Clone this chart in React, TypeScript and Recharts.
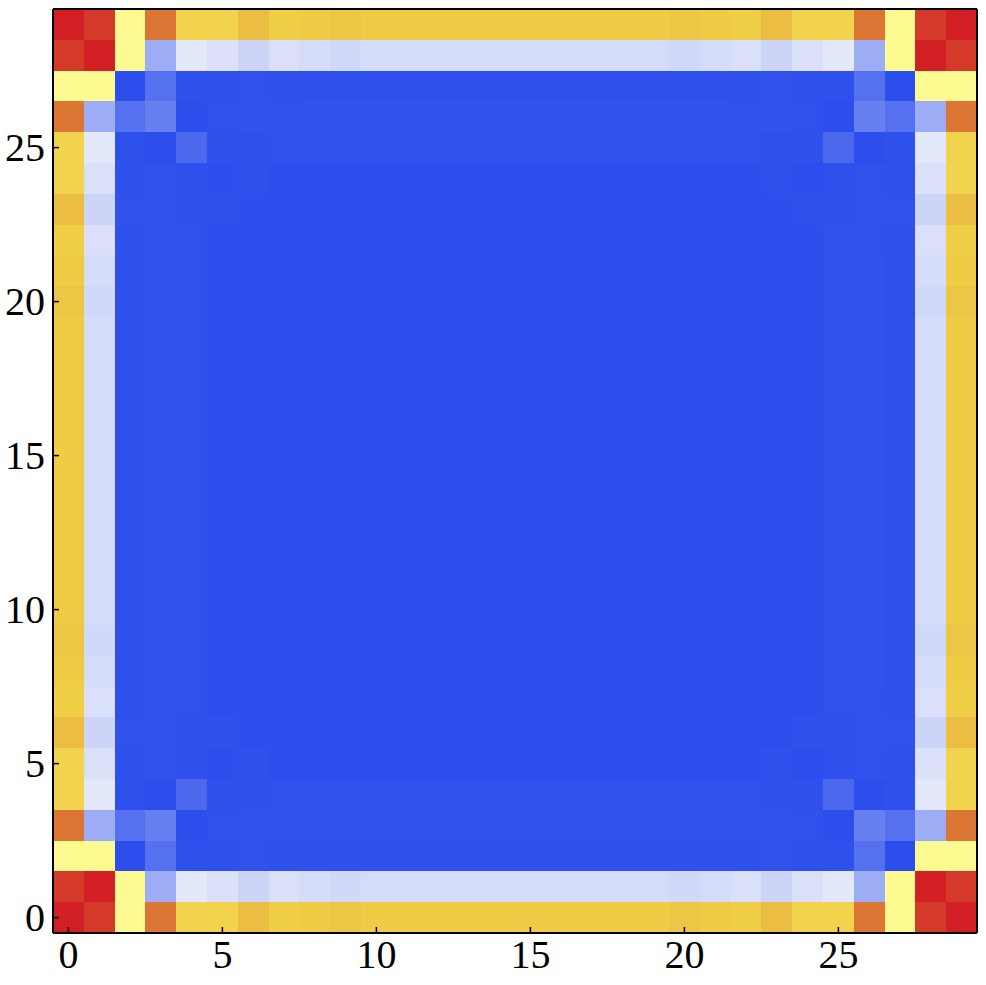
import React from 'react';
import { ScatterChart, Scatter, XAxis, YAxis } from 'recharts';

// ── Data ─────────────────────────────────────────────────────────────────────
// 30 x 30 grid, row index = y (0 at the bottom), column index = x.

const N = 30;
const X_TICKS = [0, 5, 10, 15, 20, 25];
const Y_TICKS = [0, 5, 10, 15, 20, 25];

const Z: number[][] = [
  [100, 94, 50, 80, 59, 59, 64, 60, 61, 62, 61, 61, 61, 61, 61, 61, 61, 61, 61, 61, 62, 61, 60, 64, 59, 59, 80, 50, 94, 100],
  [94, 100, 50, 24.5, 40, 38.3, 35, 38, 37, 36, 37, 37, 37, 37, 37, 37, 37, 37, 37, 37, 36, 37, 38, 35, 38.3, 40, 24.5, 50, 100, 94],
  [50, 50, 0, 9, 0.4, 0.4, 0.8, 0.4, 0.4, 0.4, 0.4, 0.4, 0.4, 0.4, 0.4, 0.4, 0.4, 0.4, 0.4, 0.4, 0.4, 0.4, 0.4, 0.8, 0.4, 0.4, 9, 0, 50, 50],
  [80, 24.5, 9, 13, 0, 0.8, 1.2, 0.8, 1, 1, 1, 1, 1, 1, 1, 1, 1, 1, 1, 1, 1, 1, 0.8, 1.2, 0.8, 0, 13, 9, 24.5, 80],
  [59, 40, 0.4, 0, 7, 0.6, 0.4, 0.8, 0.8, 0.8, 0.8, 0.8, 0.8, 0.8, 0.8, 0.8, 0.8, 0.8, 0.8, 0.8, 0.8, 0.8, 0.8, 0.4, 0.6, 7, 0, 0.4, 40, 59],
  [59, 38.3, 0.4, 0.8, 0.6, 0, 0.4, 0, 0, 0, 0, 0, 0, 0, 0, 0, 0, 0, 0, 0, 0, 0, 0, 0.4, 0, 0.6, 0.8, 0.4, 38.3, 59],
  [64, 35, 0.8, 1.2, 0.4, 0.4, 0, 0, 0, 0, 0, 0, 0, 0, 0, 0, 0, 0, 0, 0, 0, 0, 0, 0, 0.4, 0.4, 1.2, 0.8, 35, 64],
  [60, 38, 0.4, 0.8, 0.8, 0, 0, 0, 0, 0, 0, 0, 0, 0, 0, 0, 0, 0, 0, 0, 0, 0, 0, 0, 0, 0.8, 0.8, 0.4, 38, 60],
  [61, 37, 0.4, 1, 0.8, 0, 0, 0, 0, 0, 0, 0, 0, 0, 0, 0, 0, 0, 0, 0, 0, 0, 0, 0, 0, 0.8, 1, 0.4, 37, 61],
  [62, 36, 0.4, 1, 0.8, 0, 0, 0, 0, 0, 0, 0, 0, 0, 0, 0, 0, 0, 0, 0, 0, 0, 0, 0, 0, 0.8, 1, 0.4, 36, 62],
  [61, 37, 0.4, 1, 0.8, 0, 0, 0, 0, 0, 0, 0, 0, 0, 0, 0, 0, 0, 0, 0, 0, 0, 0, 0, 0, 0.8, 1, 0.4, 37, 61],
  [61, 37, 0.4, 1, 0.8, 0, 0, 0, 0, 0, 0, 0, 0, 0, 0, 0, 0, 0, 0, 0, 0, 0, 0, 0, 0, 0.8, 1, 0.4, 37, 61],
  [61, 37, 0.4, 1, 0.8, 0, 0, 0, 0, 0, 0, 0, 0, 0, 0, 0, 0, 0, 0, 0, 0, 0, 0, 0, 0, 0.8, 1, 0.4, 37, 61],
  [61, 37, 0.4, 1, 0.8, 0, 0, 0, 0, 0, 0, 0, 0, 0, 0, 0, 0, 0, 0, 0, 0, 0, 0, 0, 0, 0.8, 1, 0.4, 37, 61],
  [61, 37, 0.4, 1, 0.8, 0, 0, 0, 0, 0, 0, 0, 0, 0, 0, 0, 0, 0, 0, 0, 0, 0, 0, 0, 0, 0.8, 1, 0.4, 37, 61],
  [61, 37, 0.4, 1, 0.8, 0, 0, 0, 0, 0, 0, 0, 0, 0, 0, 0, 0, 0, 0, 0, 0, 0, 0, 0, 0, 0.8, 1, 0.4, 37, 61],
  [61, 37, 0.4, 1, 0.8, 0, 0, 0, 0, 0, 0, 0, 0, 0, 0, 0, 0, 0, 0, 0, 0, 0, 0, 0, 0, 0.8, 1, 0.4, 37, 61],
  [61, 37, 0.4, 1, 0.8, 0, 0, 0, 0, 0, 0, 0, 0, 0, 0, 0, 0, 0, 0, 0, 0, 0, 0, 0, 0, 0.8, 1, 0.4, 37, 61],
  [61, 37, 0.4, 1, 0.8, 0, 0, 0, 0, 0, 0, 0, 0, 0, 0, 0, 0, 0, 0, 0, 0, 0, 0, 0, 0, 0.8, 1, 0.4, 37, 61],
  [61, 37, 0.4, 1, 0.8, 0, 0, 0, 0, 0, 0, 0, 0, 0, 0, 0, 0, 0, 0, 0, 0, 0, 0, 0, 0, 0.8, 1, 0.4, 37, 61],
  [62, 36, 0.4, 1, 0.8, 0, 0, 0, 0, 0, 0, 0, 0, 0, 0, 0, 0, 0, 0, 0, 0, 0, 0, 0, 0, 0.8, 1, 0.4, 36, 62],
  [61, 37, 0.4, 1, 0.8, 0, 0, 0, 0, 0, 0, 0, 0, 0, 0, 0, 0, 0, 0, 0, 0, 0, 0, 0, 0, 0.8, 1, 0.4, 37, 61],
  [60, 38, 0.4, 0.8, 0.8, 0, 0, 0, 0, 0, 0, 0, 0, 0, 0, 0, 0, 0, 0, 0, 0, 0, 0, 0, 0, 0.8, 0.8, 0.4, 38, 60],
  [64, 35, 0.8, 1.2, 0.4, 0.4, 0, 0, 0, 0, 0, 0, 0, 0, 0, 0, 0, 0, 0, 0, 0, 0, 0, 0, 0.4, 0.4, 1.2, 0.8, 35, 64],
  [59, 38.3, 0.4, 0.8, 0.6, 0, 0.4, 0, 0, 0, 0, 0, 0, 0, 0, 0, 0, 0, 0, 0, 0, 0, 0, 0.4, 0, 0.6, 0.8, 0.4, 38.3, 59],
  [59, 40, 0.4, 0, 7, 0.6, 0.4, 0.8, 0.8, 0.8, 0.8, 0.8, 0.8, 0.8, 0.8, 0.8, 0.8, 0.8, 0.8, 0.8, 0.8, 0.8, 0.8, 0.4, 0.6, 7, 0, 0.4, 40, 59],
  [80, 24.5, 9, 13, 0, 0.8, 1.2, 0.8, 1, 1, 1, 1, 1, 1, 1, 1, 1, 1, 1, 1, 1, 1, 0.8, 1.2, 0.8, 0, 13, 9, 24.5, 80],
  [50, 50, 0, 9, 0.4, 0.4, 0.8, 0.4, 0.4, 0.4, 0.4, 0.4, 0.4, 0.4, 0.4, 0.4, 0.4, 0.4, 0.4, 0.4, 0.4, 0.4, 0.4, 0.8, 0.4, 0.4, 9, 0, 50, 50],
  [94, 100, 50, 24.5, 40, 38.3, 35, 38, 37, 36, 37, 37, 37, 37, 37, 37, 37, 37, 37, 37, 36, 37, 38, 35, 38.3, 40, 24.5, 50, 100, 94],
  [100, 94, 50, 80, 59, 59, 64, 60, 61, 62, 61, 61, 61, 61, 61, 61, 61, 61, 61, 61, 62, 61, 60, 64, 59, 59, 80, 50, 94, 100],
];

// ── Layout / style ───────────────────────────────────────────────────────────

const CHART_W = 986;
const CHART_H = 985;
const MARGIN = { top: 8, right: 8, bottom: 0, left: 0 };
const Y_AXIS_W = 53;
const X_AXIS_H = 52;
const FRAME_AXIS = 1; // thickness of the top / right "frame" axes
const CELL_W = (CHART_W - MARGIN.left - MARGIN.right - Y_AXIS_W - FRAME_AXIS) / N;
const CELL_H = (CHART_H - MARGIN.top - MARGIN.bottom - X_AXIS_H - FRAME_AXIS) / N;
const FONT = '"Liberation Serif", "DejaVu Serif", serif';
const FONT_SIZE = 40;

// blue -> white -> pale yellow -> yellow -> orange -> red
const STOPS: [number, string][] = [
  [0, '#2c4eec'],
  [40, '#e3e8fa'],
  [50, '#fcfa90'],
  [60, '#f0cf47'],
  [80, '#dc7634'],
  [100, '#d21f26'],
];

function hexRgb(h: string): number[] {
  return [1, 3, 5].map((i) => parseInt(h.slice(i, i + 2), 16));
}

function colorFor(v: number): string {
  let k = 0;
  while (k < STOPS.length - 2 && v > STOPS[k + 1][0]) k++;
  const [v0, c0] = STOPS[k];
  const [v1, c1] = STOPS[k + 1];
  const t = Math.max(0, Math.min(1, (v - v0) / (v1 - v0)));
  const a = hexRgb(c0);
  const b = hexRgb(c1);
  const rgb = a.map((ch, i) => Math.round(ch + (b[i] - ch) * t));
  return `rgb(${rgb[0]},${rgb[1]},${rgb[2]})`;
}

const cells = Z.flatMap((row, y) => row.map((v, x) => ({ x, y, v })));

// ── Marks ─────────────────────────────────────────────────────────────────────

function HeatCell(props: any) {
  const { cx, cy, payload } = props;
  if (cx == null || cy == null) return null;
  // crisp edges: neighbouring cells snap to the same pixel edge, no seams
  return (
    <rect
      x={cx - CELL_W / 2}
      y={cy - CELL_H / 2}
      width={CELL_W}
      height={CELL_H}
      fill={colorFor(payload.v)}
      shapeRendering="crispEdges"
    />
  );
}

function XTick(props: any) {
  const { x, y, payload } = props;
  return (
    <g>
      <line x1={x} y1={y} x2={x} y2={y - 6} stroke="#000" strokeWidth={1.5} />
      <text x={x} y={y + 35} textAnchor="middle" fontFamily={FONT} fontSize={FONT_SIZE} fill="#000">
        {payload.value}
      </text>
    </g>
  );
}

function YTick(props: any) {
  const { x, y, payload } = props;
  return (
    <g>
      <line x1={x} y1={y} x2={x + 6} y2={y} stroke="#000" strokeWidth={1.5} />
      <text x={x - 8} y={y + 13.5} textAnchor="end" fontFamily={FONT} fontSize={FONT_SIZE} fill="#000">
        {payload.value}
      </text>
    </g>
  );
}

const AXIS_LINE = { stroke: '#000', strokeWidth: 2 };

export default function App() {
  return (
    <div style={{ position: 'absolute', left: 0, top: 0, width: CHART_W, height: CHART_H, background: '#fff' }}>
      <ScatterChart width={CHART_W} height={CHART_H} margin={MARGIN}>
        <Scatter data={cells} dataKey="v" shape={HeatCell} isAnimationActive={false} zIndex={0} />
        <XAxis
          type="number"
          dataKey="x"
          domain={[-0.5, N - 0.5]}
          ticks={X_TICKS}
          interval={0}
          height={X_AXIS_H}
          tickSize={0}
          tickMargin={0}
          tickLine={false}
          axisLine={AXIS_LINE}
          tick={<XTick />}
          allowDataOverflow
        />
        <YAxis
          type="number"
          dataKey="y"
          domain={[-0.5, N - 0.5]}
          ticks={Y_TICKS}
          interval={0}
          width={Y_AXIS_W}
          tickSize={0}
          tickMargin={0}
          tickLine={false}
          axisLine={AXIS_LINE}
          tick={<YTick />}
          allowDataOverflow
        />
        <XAxis
          xAxisId="top"
          orientation="top"
          type="number"
          domain={[-0.5, N - 0.5]}
          height={FRAME_AXIS}
          tick={false}
          tickLine={false}
          axisLine={AXIS_LINE}
        />
        <YAxis
          yAxisId="right"
          orientation="right"
          type="number"
          domain={[-0.5, N - 0.5]}
          width={FRAME_AXIS}
          tick={false}
          tickLine={false}
          axisLine={AXIS_LINE}
        />
      </ScatterChart>
    </div>
  );
}
